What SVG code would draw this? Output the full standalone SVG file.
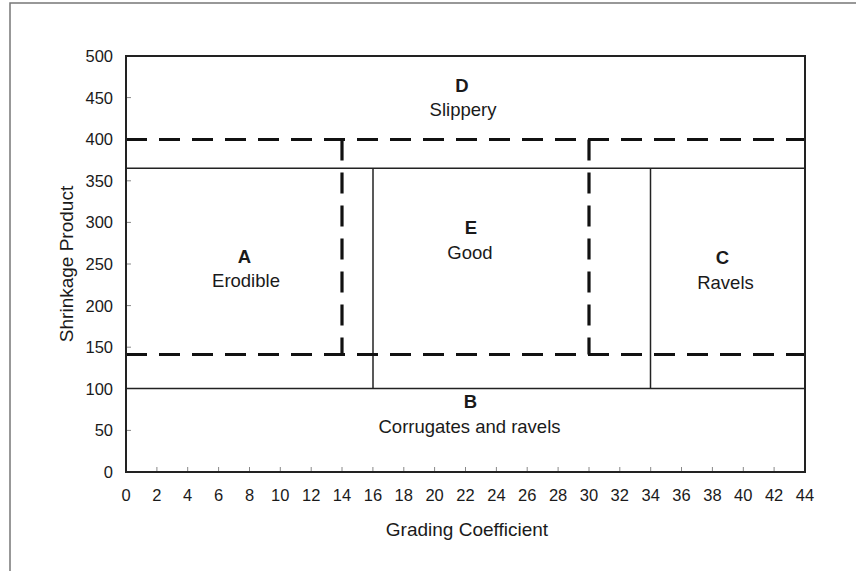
<svg xmlns="http://www.w3.org/2000/svg" width="856" height="571" viewBox="0 0 856 571">
<style>
text{font-family:"Liberation Sans",Arial,sans-serif;fill:#1a1a1a}
.tk{font-size:16.5px}
.yt{text-anchor:end}
.xt{text-anchor:middle}
.ttl{font-size:19px;text-anchor:middle}
.lb{font-size:18.5px;text-anchor:middle}
.lt{font-size:18.5px;text-anchor:middle;font-weight:bold}
.solid{stroke:#222;stroke-width:1.5;fill:none}
.dash{stroke:#111;stroke-width:3.2;fill:none;stroke-dasharray:21 12}
.tick{stroke:#888;stroke-width:1}
</style>
<rect width="856" height="571" fill="#fff"/>
<path d="M10,571 V3 H856" fill="none" stroke="#777" stroke-width="1.5"/>

<g id="connectors">
<!-- solid boundaries -->
<line class="solid" x1="126" y1="168.3" x2="805" y2="168.3"/>
<line class="solid" x1="126" y1="388.5" x2="805" y2="388.5"/>
<line class="solid" x1="373" y1="168.3" x2="373" y2="388.5"/>
<line class="solid" x1="650.5" y1="168.3" x2="650.5" y2="388.5"/>
<!-- dashed boundaries -->
<line class="dash" x1="126" y1="139.5" x2="805" y2="139.5"/>
<line class="dash" x1="126" y1="354.5" x2="805" y2="354.5"/>
<line class="dash" x1="342" y1="139.5" x2="342" y2="354.5"/>
<line class="dash" x1="589" y1="139.5" x2="589" y2="354.5"/>
</g>

<g id="axes">
<rect x="126" y="56" width="679" height="416" fill="none" stroke="#222" stroke-width="2"/>
<g class="tick">
<line x1="127" y1="97.6" x2="131" y2="97.6"/>
<line x1="127" y1="180.8" x2="131" y2="180.8"/>
<line x1="127" y1="222.4" x2="131" y2="222.4"/>
<line x1="127" y1="264" x2="131" y2="264"/>
<line x1="127" y1="305.6" x2="131" y2="305.6"/>
<line x1="127" y1="347.2" x2="131" y2="347.2"/>
<line x1="127" y1="430.4" x2="131" y2="430.4"/>
<line x1="156.9" y1="471" x2="156.9" y2="467"/>
<line x1="187.7" y1="471" x2="187.7" y2="467"/>
<line x1="218.6" y1="471" x2="218.6" y2="467"/>
<line x1="249.5" y1="471" x2="249.5" y2="467"/>
<line x1="280.3" y1="471" x2="280.3" y2="467"/>
<line x1="311.2" y1="471" x2="311.2" y2="467"/>
<line x1="342" y1="471" x2="342" y2="467"/>
<line x1="372.9" y1="471" x2="372.9" y2="467"/>
<line x1="403.8" y1="471" x2="403.8" y2="467"/>
<line x1="434.6" y1="471" x2="434.6" y2="467"/>
<line x1="465.5" y1="471" x2="465.5" y2="467"/>
<line x1="496.4" y1="471" x2="496.4" y2="467"/>
<line x1="527.2" y1="471" x2="527.2" y2="467"/>
<line x1="558.1" y1="471" x2="558.1" y2="467"/>
<line x1="589" y1="471" x2="589" y2="467"/>
<line x1="619.8" y1="471" x2="619.8" y2="467"/>
<line x1="650.7" y1="471" x2="650.7" y2="467"/>
<line x1="681.5" y1="471" x2="681.5" y2="467"/>
<line x1="712.4" y1="471" x2="712.4" y2="467"/>
<line x1="743.3" y1="471" x2="743.3" y2="467"/>
<line x1="774.1" y1="471" x2="774.1" y2="467"/>
</g>
<g class="tk yt">
<text x="113" y="62">500</text>
<text x="113" y="103.6">450</text>
<text x="113" y="145.2">400</text>
<text x="113" y="186.8">350</text>
<text x="113" y="228.4">300</text>
<text x="113" y="270">250</text>
<text x="113" y="311.6">200</text>
<text x="113" y="353.2">150</text>
<text x="113" y="394.8">100</text>
<text x="113" y="436.4">50</text>
<text x="113" y="478">0</text>
</g>
<g class="tk xt">
<text x="126" y="501">0</text>
<text x="156.9" y="501">2</text>
<text x="187.7" y="501">4</text>
<text x="218.6" y="501">6</text>
<text x="249.5" y="501">8</text>
<text x="280.3" y="501">10</text>
<text x="311.2" y="501">12</text>
<text x="342" y="501">14</text>
<text x="372.9" y="501">16</text>
<text x="403.8" y="501">18</text>
<text x="434.6" y="501">20</text>
<text x="465.5" y="501">22</text>
<text x="496.4" y="501">24</text>
<text x="527.2" y="501">26</text>
<text x="558.1" y="501">28</text>
<text x="589" y="501">30</text>
<text x="619.8" y="501">32</text>
<text x="650.7" y="501">34</text>
<text x="681.5" y="501">36</text>
<text x="712.4" y="501">38</text>
<text x="743.3" y="501">40</text>
<text x="774.1" y="501">42</text>
<text x="805" y="501">44</text>
</g>
<text class="ttl" x="467" y="536">Grading Coefficient</text>
<text class="ttl" transform="translate(73,264) rotate(-90)">Shrinkage Product</text>
</g>

<g id="region-D"><text class="lt" x="462" y="92">D</text><text class="lb" x="463" y="116">Slippery</text></g>
<g id="region-A"><text class="lt" x="244.5" y="263">A</text><text class="lb" x="246" y="287">Erodible</text></g>
<g id="region-E"><text class="lt" x="471" y="234">E</text><text class="lb" x="470" y="259">Good</text></g>
<g id="region-C"><text class="lt" x="722.5" y="264">C</text><text class="lb" x="725.5" y="289">Ravels</text></g>
<g id="region-B"><text class="lt" x="470.5" y="408">B</text><text class="lb" x="469.5" y="433">Corrugates and ravels</text></g>
</svg>
